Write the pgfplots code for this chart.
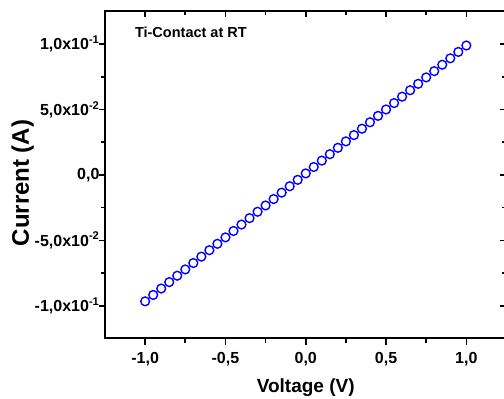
\documentclass[border=0pt]{standalone}
\usepackage{fontspec}
\setmainfont{Liberation Sans}
\usepackage{pgfplots}
\pgfplotsset{compat=1.18}
\begin{document}
\begin{tikzpicture}[x=1pt,y=1pt]
\pgfplotsset{
  common/.style={
    scale only axis, width=401.5pt, height=327pt,
    xmin=-1.25, xmax=1.25, ymin=-0.125, ymax=0.125,
    xtick={-1,-0.5,0,0.5,1}, ytick={-0.1,-0.05,0,0.05,0.1},
    minor x tick num=1, minor y tick num=1,
    major tick length=6pt, minor tick length=4pt,
    every tick/.style={black, line width=1.6pt},
    every minor tick/.style={black, line width=1.6pt},
    axis line style={line width=2pt},
    scaled y ticks=false,
  }
}
\begin{axis}[common,
  xtick pos=left, ytick pos=left, tick align=outside,
  xticklabels={{-1,0},{-0,5},{0,0},{0,5},{1,0}},
  yticklabels={{-1,0x10\textsuperscript{-1}},{-5,0x10\textsuperscript{-2}},{0,0},{5,0x10\textsuperscript{-2}},{1,0x10\textsuperscript{-1}}},
  tick label style={font=\bfseries\fontsize{16}{19}\selectfont},
  xticklabel style={yshift=-4pt},
  yticklabel style={xshift=4pt},
  xlabel={Voltage (V)}, ylabel={Current (A)},
  xlabel style={font=\bfseries\fontsize{19}{22}\selectfont, yshift=-6pt},
  ylabel style={font=\bfseries\fontsize{24}{27}\selectfont, yshift=-6pt, xshift=-8pt},
]
\addplot[only marks, mark=o, color=blue, mark size=4.4pt, line width=1.4pt] coordinates {
(-1.00,-0.0966) (-0.95,-0.0917) (-0.90,-0.0868) (-0.85,-0.0819) (-0.80,-0.0770)
(-0.75,-0.0722) (-0.70,-0.0673) (-0.65,-0.0624) (-0.60,-0.0575) (-0.55,-0.0526)
(-0.50,-0.0477) (-0.45,-0.0428) (-0.40,-0.0379) (-0.35,-0.0330) (-0.30,-0.0281)
(-0.25,-0.0233) (-0.20,-0.0184) (-0.15,-0.0135) (-0.10,-0.0086) (-0.05,-0.0037)
(0.00,0.0012) (0.05,0.0061) (0.10,0.0110) (0.15,0.0159) (0.20,0.0208)
(0.25,0.0257) (0.30,0.0305) (0.35,0.0354) (0.40,0.0403) (0.45,0.0452)
(0.50,0.0501) (0.55,0.0550) (0.60,0.0599) (0.65,0.0648) (0.70,0.0697)
(0.75,0.0746) (0.80,0.0794) (0.85,0.0843) (0.90,0.0892) (0.95,0.0941)
(1.00,0.0990)
};
\node[anchor=base west, font=\bfseries\fontsize{14.5}{17}\selectfont] at (axis cs:-1.085,0.1055) {Ti-Contact at RT};
\end{axis}
\begin{axis}[common,
  xtick pos=right, ytick pos=right, tick align=inside,
  xticklabels={}, yticklabels={},
]
\end{axis}
\pgfresetboundingbox
\useasboundingbox (-105pt,-60.5pt) rectangle (399pt,338.5pt);
\end{tikzpicture}
\end{document}
